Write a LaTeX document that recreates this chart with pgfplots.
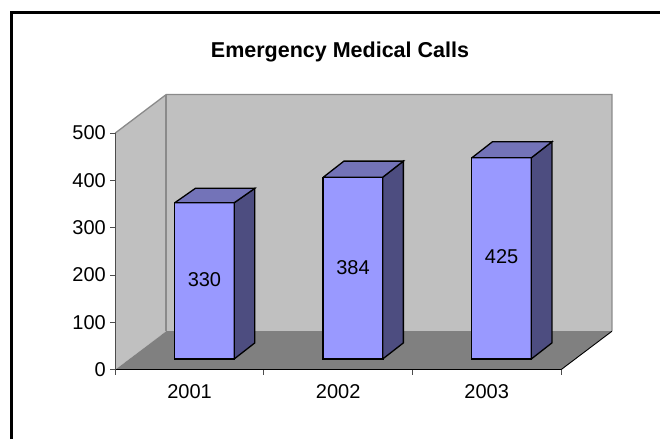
\documentclass[border=0pt]{standalone}
\usepackage{pgfplots}
\usepackage{pgfplotstable}
\pgfplotsset{compat=1.18}
\usepackage{fontspec}
\setmainfont{Liberation Sans}
\definecolor{wall}{HTML}{C0C0C0}
\definecolor{floorc}{HTML}{808080}
\definecolor{front}{HTML}{9999FF}
\definecolor{topc}{HTML}{7373B8}
\definecolor{sidec}{HTML}{4D4D80}
\definecolor{edge}{HTML}{8A8A8A}
\pgfplotstableread{
x v
0 330
1 384
2 425
}\values
\begin{document}
\begin{tikzpicture}[x=1pt,y=1pt]
\path[use as bounding box] (0,0) rectangle (660,439);
\draw[black,line width=2.5pt] (11.5,0) -- (11.5,426.5) -- (660,426.5);
\node[font=\fontsize{21.5}{24}\selectfont\bfseries,anchor=center] at (340,387) {Emergency Medical Calls};
% walls, floor, axis: x in categories (148.6 px each), y in values
\begin{axis}[
  at={(115.3pt,69.3pt)},anchor=origin,
  width=445.7pt,height=236.7pt,scale only axis,
  xmin=0,xmax=3,ymin=0,ymax=500,clip=false,
  axis on top,
  axis x line*=bottom,axis y line*=left,
  y axis line style={black!70!white,line width=1.4pt,-},
  x axis line style={black,line width=1.2pt,-},
  xtick={0,1,2,3},xticklabels={},
  extra x ticks={0.5,1.5,2.5},
  extra x tick labels={2001,2002,2003},
  extra x tick style={major tick length=0pt,tick label style={yshift=-11.5pt}},
  ytick={0,100,...,500},
  tick align=outside,
  major tick length=5pt,
  tick style={black!70!white,line width=0.8pt},
  tick label style={font=\fontsize{20}{22}\selectfont},
  yticklabel style={xshift=-1pt},
  /pgf/number format/assume math mode=true,
]
\addplot[fill=wall,draw=none] coordinates {(0,0) (0.343,81.3) (0.343,581.3) (0,500) (0,0)};
\addplot[fill=wall,draw=none] coordinates {(0.343,81.3) (3.343,81.3) (3.343,581.3) (0.343,581.3) (0.343,81.3)};
\addplot[fill=floorc,draw=none] coordinates {(0,0) (3,0) (3.343,81.3) (0.343,81.3) (0,0)};
\addplot[edge,line width=1.3pt] coordinates {(0,500) (0.343,581.3) (3.343,581.3) (3.343,81.3)};
\addplot[edge,line width=2pt] coordinates {(0.343,81.3) (0.343,581.3)};
\addplot[black,line width=0.9pt] coordinates {(3,0) (3.343,81.3)};
\end{axis}
% bars: the axis floor sits on the bars' base line
\begin{axis}[
  at={(115.3pt,80pt)},anchor=origin,
  width=445.7pt,height=236.7pt,scale only axis,
  xmin=0,xmax=3,ymin=0,ymax=500,clip=false,
  hide axis,
]
% front faces
\addplot[ybar,bar width=60pt,bar shift=0pt,fill=front,draw=black,line width=1.3pt]
  table[x expr=\thisrow{x}+0.6,y=v] {\values};
% side faces
\addplot[fill=sidec,draw=black,line width=1.3pt] coordinates {(0.8,0) (0.939,34) (0.939,360.5) (0.8,330) (0.8,0)};
\addplot[fill=sidec,draw=black,line width=1.3pt] coordinates {(1.8,0) (1.939,34) (1.939,418) (1.8,384) (1.8,0)};
\addplot[fill=sidec,draw=black,line width=1.3pt] coordinates {(2.8,0) (2.939,34) (2.939,459) (2.8,425) (2.8,0)};
% top faces
\addplot[fill=topc,draw=black,line width=1.3pt] coordinates {(0.4,330) (0.539,360.5) (0.939,360.5) (0.8,330) (0.4,330)};
\addplot[fill=topc,draw=black,line width=1.3pt] coordinates {(1.4,384) (1.539,418) (1.939,418) (1.8,384) (1.4,384)};
\addplot[fill=topc,draw=black,line width=1.3pt] coordinates {(2.4,425) (2.539,459) (2.939,459) (2.8,425) (2.4,425)};
% value labels
\addplot[only marks,mark=none,point meta=explicit symbolic,
  nodes near coords,
  nodes near coords style={anchor=center,font=\fontsize{20}{22}\selectfont,inner sep=0pt}]
  coordinates {(0.6,167)[330] (1.6,194)[384] (2.6,217)[425]};
\end{axis}
\end{tikzpicture}
\end{document}
